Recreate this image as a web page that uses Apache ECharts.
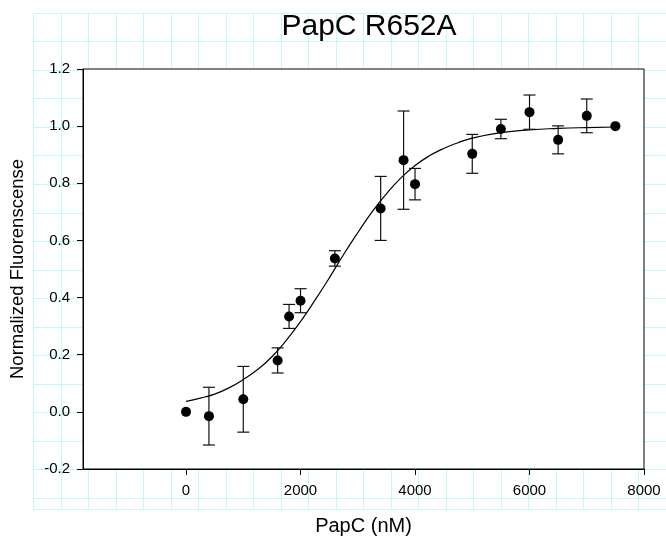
<!DOCTYPE html>
<html>
<head>
<meta charset="utf-8">
<script src="https://cdn.jsdelivr.net/npm/echarts@6/dist/echarts.min.js"></script>
<style>
html,body{margin:0;padding:0;background:#fff;}
#chart{width:666px;height:544px;}
</style>
</head>
<body>
<div id="chart"></div>
<script>
// ---- data ----
var concentrations = [0, 400, 1000, 1600, 1800, 2000, 2600, 3400, 3800, 4000, 5000, 5500, 6000, 6500, 7000, 7500];
var fluorescence   = [0.000, -0.015, 0.044, 0.180, 0.334, 0.389, 0.537, 0.712, 0.881, 0.797, 0.903, 0.990, 1.049, 0.952, 1.036, 1.000];
var errors         = [0, 0.101, 0.115, 0.044, 0.042, 0.042, 0.027, 0.112, 0.172, 0.055, 0.068, 0.034, 0.060, 0.049, 0.059, 0];
var fitX = [0, 250, 500, 750, 1000, 1250, 1500, 1750, 2000, 2250, 2500, 2750, 3000, 3250, 3500, 3750, 4000, 4250, 4500, 4750, 5000, 5500, 6000, 6500, 7000, 7500];
var fitY = [0.037, 0.048, 0.062, 0.084, 0.113, 0.148, 0.193, 0.250, 0.316, 0.390, 0.468, 0.550, 0.627, 0.700, 0.763, 0.818, 0.862, 0.896, 0.922, 0.942, 0.958, 0.977, 0.987, 0.992, 0.995, 0.997];
var xTickValues = [0, 2000, 4000, 6000, 8000];
var titleText = 'PapC R652A';
var xAxisName = 'PapC (nM)';
var yAxisName = 'Normalized Fluorenscense';

var points = concentrations.map(function (x, i) { return [x, fluorescence[i]]; });
var errData = concentrations.map(function (x, i) {
  return [x, fluorescence[i] - errors[i], fluorescence[i] + errors[i]];
}).filter(function (d, i) { return errors[i] > 0; });
var fitData = fitX.map(function (x, i) { return [x, fitY[i]]; });

var FONT = 'Liberation Sans, Arial, sans-serif';
var chart = echarts.init(document.getElementById('chart'), null, {renderer: 'canvas'});

var option = {
  animation: false,
  backgroundColor: '#fff',
  title: {
    text: titleText,
    left: 364, top: 7, textAlign: 'center',
    textStyle: {fontFamily: FONT, fontSize: 30, fontWeight: 'normal', color: '#000'}
  },
  grid: [
    {left: 83, top: 69, width: 561, height: 400, show: true, backgroundColor: '#fff',
     borderColor: '#000', borderWidth: 1, z: 1, containLabel: false},
    {left: 33.3, top: 12.9, width: 644, height: 496, show: false, z: 0}
  ],
  xAxis: [
    {gridIndex: 0, type: 'value', min: -1800, max: 8000, z: 3,
     axisLine: {show: true, onZero: false, lineStyle: {color: '#000', width: 1}},
     axisTick: {show: true, inside: false, length: 6, customValues: xTickValues, lineStyle: {color: '#000'}},
     axisLabel: {show: true, customValues: xTickValues, margin: 14, color: '#000', fontFamily: FONT, fontSize: 15,
                 formatter: function (v) { return String(v); }},
     splitLine: {show: false},
     name: xAxisName, nameLocation: 'middle', nameGap: 47,
     nameTextStyle: {fontFamily: FONT, fontSize: 20, color: '#000'}},
    {gridIndex: 1, type: 'value', min: 0, max: 23, interval: 1, z: 0,
     axisLine: {show: false}, axisTick: {show: false}, axisLabel: {show: false},
     splitLine: {show: true, lineStyle: {color: '#c2f8f8', width: 1}}}
  ],
  yAxis: [
    {gridIndex: 0, type: 'value', min: -0.2, max: 1.2, interval: 0.2, z: 3,
     axisLine: {show: true, onZero: false, lineStyle: {color: '#000', width: 1}},
     axisTick: {show: true, inside: false, length: 6, lineStyle: {color: '#000'}},
     axisLabel: {margin: 13, color: '#000', fontFamily: FONT, fontSize: 15,
                 formatter: function (v) { return (Math.abs(v) < 1e-9 ? 0 : v).toFixed(1); }},
     splitLine: {show: false},
     name: yAxisName, nameLocation: 'middle', nameRotate: 90, nameGap: 56,
     nameTextStyle: {fontFamily: FONT, fontSize: 18.5, color: '#000'}},
    {gridIndex: 1, type: 'value', min: 0, max: 496 / 28.55, interval: 1, inverse: true, z: 0,
     axisLine: {show: false}, axisTick: {show: false}, axisLabel: {show: false},
     splitLine: {show: true, lineStyle: {color: '#c2f8f8', width: 1}}}
  ],
  series: [
    {
      type: 'line', xAxisIndex: 0, yAxisIndex: 0, data: fitData, smooth: true,
      showSymbol: false, symbol: 'none', z: 4,
      lineStyle: {color: '#000', width: 1.2}
    },
    {
      type: 'custom', xAxisIndex: 0, yAxisIndex: 0, data: errData, z: 5,
      renderItem: function (params, api) {
        var x = api.value(0);
        var lo = api.coord([x, api.value(1)]);
        var hi = api.coord([x, api.value(2)]);
        var w = 6;
        var style = {stroke: '#111', lineWidth: 1.2, fill: null};
        return {
          type: 'group',
          children: [
            {type: 'line', shape: {x1: lo[0], y1: lo[1], x2: hi[0], y2: hi[1]}, style: style},
            {type: 'line', shape: {x1: hi[0] - w, y1: hi[1], x2: hi[0] + w, y2: hi[1]}, style: style},
            {type: 'line', shape: {x1: lo[0] - w, y1: lo[1], x2: lo[0] + w, y2: lo[1]}, style: style}
          ]
        };
      }
    },
    {
      type: 'scatter', xAxisIndex: 0, yAxisIndex: 0, data: points, z: 6,
      symbol: 'circle', symbolSize: 10,
      itemStyle: {color: '#000', opacity: 1}
    }
  ]
};
chart.setOption(option);
</script>
</body>
</html>
